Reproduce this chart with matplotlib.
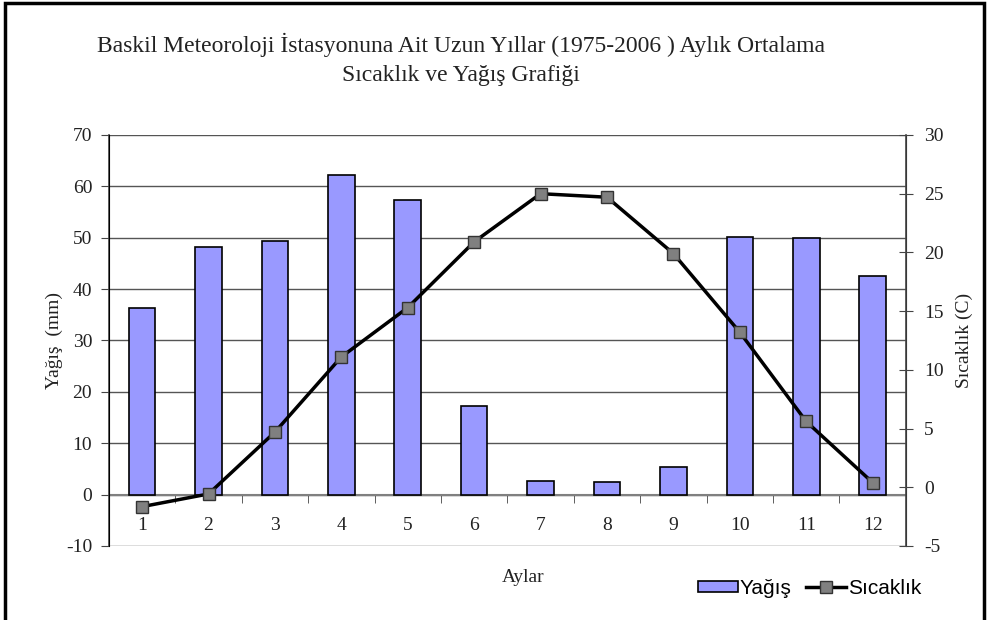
import matplotlib
matplotlib.use("Agg")
import matplotlib.pyplot as plt
from matplotlib.patches import Rectangle, Patch
from matplotlib.lines import Line2D

plt.rcParams["axes.unicode_minus"] = False

months = [1, 2, 3, 4, 5, 6, 7, 8, 9, 10, 11, 12]
month_labels = ["1", "2", "3", "4", "5", "6", "7", "8", "9", "10", "11", "12"]
yagis = [36.4, 48.2, 49.4, 62.3, 57.3, 17.3, 2.7, 2.5, 5.3, 50.1, 49.9, 42.5]
sicaklik = [-1.65, -0.57, 4.7, 11.1, 15.3, 20.9, 25.0, 24.7, 19.9, 13.2, 5.6, 0.4]

serif = "Liberation Serif"
sans = "Liberation Sans"
tc = "#222222"

fig = plt.figure(figsize=(9.9, 6.2), dpi=100)
ax = fig.add_axes([0.110, 0.1194, 0.805, 0.6629])
ax2 = ax.twinx()

ax.set_ylim(-10, 70)
ax.set_yticks(range(-10, 71, 10))
ax.yaxis.grid(True, color="#555555", linewidth=1.0)
ax.set_axisbelow(True)

ax.bar(months, yagis, width=0.4, color="#9999FF", edgecolor="black", linewidth=1.2, zorder=3)
ax.set_xlim(0.5, 12.5)

ax2.set_ylim(-5, 30)
ax2.set_yticks(range(-5, 31, 5))
ax2.plot(months, sicaklik, color="black", linewidth=2.5, marker="s", markersize=8,
         markerfacecolor="#808080", markeredgecolor="#333333", markeredgewidth=1, zorder=5)

for a in (ax, ax2):
    a.spines["top"].set_visible(False)
    a.spines["bottom"].set_visible(False)
ax.spines["left"].set_color("#444444")
ax2.spines["right"].set_color("#444444")
ax.spines["left"].set_linewidth(1.2)
ax2.spines["right"].set_linewidth(1.2)

ax.axhline(0, color="#808080", linewidth=1.5, zorder=2)
ax.set_xticks(months)
ax.set_xticklabels([])
ax.tick_params(axis="x", which="major", length=0)
ax.set_xticks([m + 0.5 for m in months[:-1]], minor=True)
ax.tick_params(axis="x", which="minor", length=6, direction="out", color="#444444")
ax.spines["bottom"].set_position(("data", 0))
for m, lab in zip(months, month_labels):
    ax.text(m, -6.0, lab, ha="center", va="center", fontsize=14, family=serif, color=tc)

ax.tick_params(axis="y", length=6, direction="out", color="#444444", labelsize=14,
               labelcolor=tc, pad=6)
ax2.tick_params(axis="y", length=10, direction="inout", color="#444444", labelsize=14,
                labelcolor=tc, pad=8)
for lab in ax.get_yticklabels() + ax2.get_yticklabels():
    lab.set_family(serif)

ax.set_ylabel("Yağış  (mm)", family=serif, fontsize=14, color=tc, labelpad=2)
ax2.set_ylabel("Sıcaklık (C)", family=serif, fontsize=14, color=tc, labelpad=9)

fig.text(0.528, 0.069, "Aylar", ha="center", va="center", family=serif, fontsize=14, color=tc)

fig.text(0.466, 0.927, "Baskil Meteoroloji İstasyonuna Ait Uzun Yıllar (1975-2006 ) Aylık Ortalama",
         ha="center", va="center", family=serif, fontsize=17, color=tc)
fig.text(0.466, 0.879, "Sıcaklık ve Yağış Grafiği",
         ha="center", va="center", family=serif, fontsize=17, color=tc)

handles = [Patch(facecolor="#9999FF", edgecolor="black", linewidth=1.2),
           Line2D([0], [0], color="black", linewidth=2.5, marker="s", markersize=8,
                  markerfacecolor="#808080", markeredgecolor="#333333")]
fig.legend(handles, ["Yağış", "Sıcaklık"], loc="center", bbox_to_anchor=(0.818, 0.051),
           ncol=2, frameon=False, prop={"family": sans, "size": 15},
           handlelength=1.9, handletextpad=0.1, columnspacing=0.7, handleheight=0.5)

fig.add_artist(Rectangle((0.005, -0.05), 0.989, 1.045, transform=fig.transFigure,
                         fill=False, edgecolor="black", linewidth=2.5))

fig.savefig("out.png", dpi=100)
